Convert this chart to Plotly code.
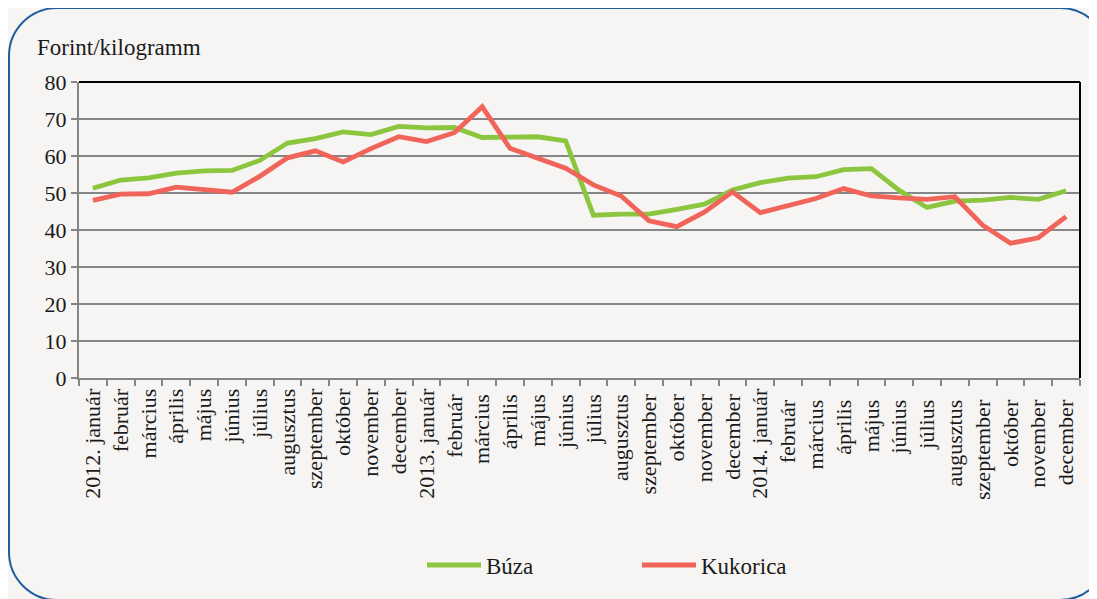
import plotly.graph_objects as go

categories = ["2012. január", "február", "március", "április", "május", "június", "július",
              "augusztus", "szeptember", "október", "november", "december",
              "2013. január", "február ", "március ", "április ", "május ", "június ", "július ",
              "augusztus ", "szeptember ", "október ", "november ", "december ",
              "2014. január", "február  ", "március  ", "április  ", "május  ", "június  ", "július  ",
              "augusztus  ", "szeptember  ", "október  ", "november  ", "december  "]

buza = [51.3, 53.5, 54.1, 55.4, 56.0, 56.1, 58.8, 63.5, 64.7, 66.5, 65.8, 68.0,
        67.6, 67.7, 65.0, 65.1, 65.2, 64.1, 44.0, 44.3, 44.3, 45.6, 47.0, 50.8,
        52.8, 54.0, 54.4, 56.3, 56.6, 50.7, 46.1, 47.8, 48.1, 48.8, 48.3, 50.6]

kukorica = [48.0, 49.7, 49.8, 51.6, 50.9, 50.2, 54.5, 59.5, 61.4, 58.4, 62.0, 65.2,
            63.9, 66.3, 73.3, 62.1, 59.4, 56.7, 52.2, 49.2, 42.5, 40.9, 44.9, 50.3,
            44.7, 46.6, 48.5, 51.2, 49.2, 48.7, 48.3, 49.0, 41.3, 36.4, 37.9, 43.6]

series_names = ["Búza", "Kukorica"]
series_colors = ["#8cc63f", "#f0645a"]

y_ticks = [0, 10, 20, 30, 40, 50, 60, 70, 80]

# page body adds an 8px offset; work in screen pixels
OFF = 8
W, H = 1097, 599
SL, SR, ST, SB = 79, 1080, 82, 378   # plot area in screen px
L, T = SL - OFF, ST - OFF
R = W - (SR - OFF)
B = H - (SB - OFF)
PW, PH = SR - SL, SB - ST
FONT = "Liberation Serif, DejaVu Serif, Times New Roman, serif"
TXT = "#1a1a1a"

def px(x):
    return (x - SL) / PW

def py(y):
    return (SB - y) / PH

fig = go.Figure()
for name, vals, col in zip(series_names, [buza, kukorica], series_colors):
    fig.add_trace(go.Scatter(x=categories, y=vals, mode="lines", name=name,
                             line=dict(color=col, width=4.8), showlegend=False))

# rounded frame (screen pixel geometry converted to paper coords)
x0, x1, y0, y1, r = 9, 1108, 8, 600, 48
k = 0.5523 * r
def P(x, y):
    return f"{px(x):.5f},{py(y):.5f}"
path = (f"M {P(x0, y0 + r)} C {P(x0, y0 + r - k)} {P(x0 + r - k, y0)} {P(x0 + r, y0)} "
        f"L {P(x1 - r, y0)} C {P(x1 - r + k, y0)} {P(x1, y0 + r - k)} {P(x1, y0 + r)} "
        f"L {P(x1, y1 - r)} C {P(x1, y1 - r + k)} {P(x1 - r + k, y1)} {P(x1 - r, y1)} "
        f"L {P(x0 + r, y1)} C {P(x0 + r - k, y1)} {P(x0, y1 - r + k)} {P(x0, y1 - r)} Z")

shapes = [
    dict(type="path", xref="paper", yref="paper", path=path,
         line=dict(color="#1f5f9f", width=2), layer="below"),
    dict(type="line", xref="paper", yref="paper", x0=0, x1=1, y0=1, y1=1,
         line=dict(color="#000000", width=2)),
    dict(type="line", xref="paper", yref="paper", x0=1, x1=1, y0=0, y1=1,
         line=dict(color="#000000", width=2)),
]

annotations = [dict(text="Forint/kilogramm", xref="paper", yref="paper",
                    x=px(35), y=py(47), xanchor="left", yanchor="middle",
                    showarrow=False, font=dict(family=FONT, size=23, color=TXT))]

# legend drawn as line samples + text
leg_x = [427, 642]
leg_y = 565
for lx, name, col in zip(leg_x, series_names, series_colors):
    shapes.append(dict(type="line", xref="paper", yref="paper",
                       x0=px(lx), x1=px(lx + 54), y0=py(leg_y), y1=py(leg_y),
                       line=dict(color=col, width=5)))
    annotations.append(dict(text=name, xref="paper", yref="paper",
                            x=px(lx + 57), y=py(leg_y + 1), xanchor="left", yanchor="middle",
                            showarrow=False, font=dict(family=FONT, size=23, color=TXT)))

fig.update_layout(
    width=W, height=H,
    margin=dict(l=L, r=R, t=T, b=B, pad=0),
    paper_bgcolor="#f6f5f3", plot_bgcolor="#f6f5f3",
    font=dict(family=FONT, size=22, color=TXT),
    shapes=shapes,
    annotations=annotations,
    showlegend=False,
    xaxis=dict(type="category", tickangle=-90, showgrid=False,
               showline=True, linecolor="#868686", linewidth=2,
               ticks="outside", tickson="boundaries", ticklen=6, tickcolor="#868686", tickwidth=1.5,
               tickfont=dict(family=FONT, size=22, color=TXT), range=[-0.5, 35.5]),
    yaxis=dict(range=[0, 80], tickvals=y_ticks, showgrid=True, gridcolor="#868686", gridwidth=2,
               showline=True, linecolor="#868686", linewidth=2, zeroline=False,
               ticks="outside", ticklen=6, tickcolor="#868686", tickwidth=1.5,
               tickfont=dict(family=FONT, size=22, color=TXT)),
)

fig.write_html("out.html")
